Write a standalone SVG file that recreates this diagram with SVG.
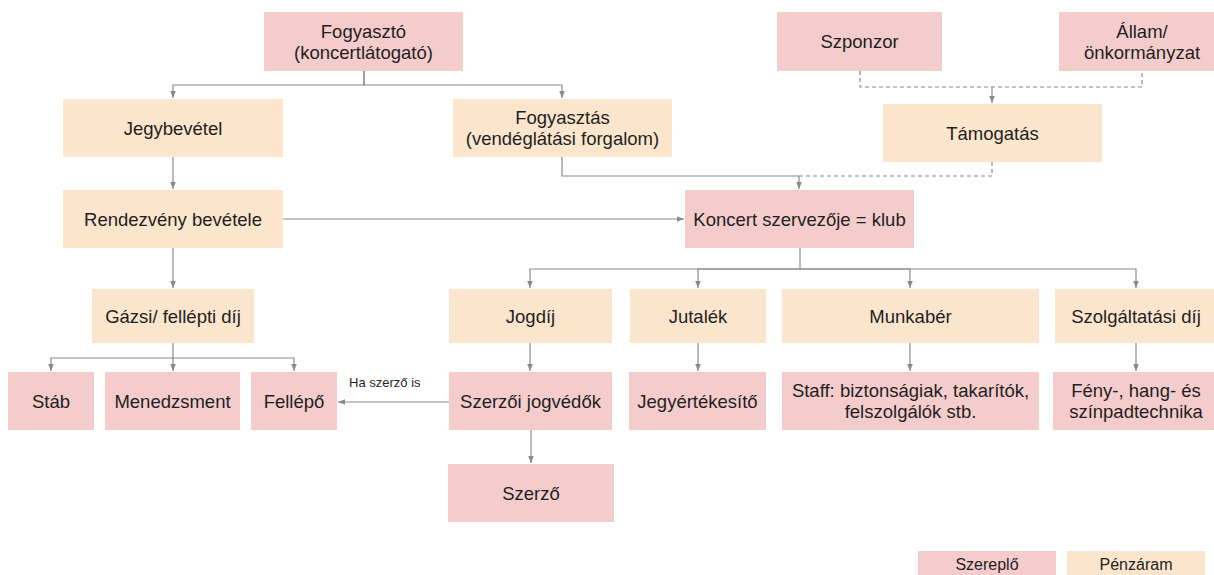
<svg xmlns="http://www.w3.org/2000/svg" width="1214" height="575" viewBox="0 0 1214 575">
<defs>
<marker id="arr" markerUnits="userSpaceOnUse" markerWidth="8" markerHeight="8" viewBox="0 0 8 8" refX="7" refY="4" orient="auto">
<path d="M0,1.2 L7,4 L0,6.8 Z" fill="#8a8a8a"/>
</marker>
<style>
.a{fill:#f4cccc}
.m{fill:#fce5cd}
text{font-family:"Liberation Sans",Arial,sans-serif;font-size:18.5px;fill:#1f1f1f;text-anchor:middle}
.s{font-size:13px;text-anchor:start}
.l{font-size:16px}
.c path{fill:none;stroke:#8a8a8a;stroke-width:1.2}
.c path.ar{marker-end:url(#arr)}
.c path.d{stroke-dasharray:4 3}
</style>
</defs>
<rect width="1214" height="575" fill="#ffffff"/>
<g class="c" id="connectors">
<path class="ar" d="M364,71 V85 H173 V98"/>
<path class="ar" d="M364,71 V85 H562 V98"/>
<path class="ar" d="M173,157 V189"/>
<path class="ar" d="M562,157 V176 H799 V189"/>
<path class="d" d="M860,71 V87 H1142 V71"/>
<path class="ar" d="M992,87 V103"/>
<path class="d" d="M992,162 V176 H799"/>
<path class="ar" d="M283,219 H684"/>
<path class="ar" d="M173,248 V288"/>
<path class="ar" d="M173,343 V358 H51 V371"/>
<path class="ar" d="M173,358 V371"/>
<path class="ar" d="M173,358 H294 V371"/>
<path class="ar" d="M800,248 V269 H530 V288"/>
<path class="ar" d="M800,269 H698 V288"/>
<path class="ar" d="M800,269 H910 V288"/>
<path class="ar" d="M800,269 H1136 V288"/>
<path class="ar" d="M530,343 V371"/>
<path class="ar" d="M698,343 V371"/>
<path class="ar" d="M910,343 V371"/>
<path class="ar" d="M1136,343 V371"/>
<path class="ar" d="M449,402 H338"/>
<path class="ar" d="M531,430 V463"/>
<text class="s" x="349" y="387">Ha szerző is</text>
</g>
<g id="fogyaszto"><rect class="a" x="264" y="12" width="199" height="59"/><text x="363.5" y="37.5">Fogyasztó</text><text x="363.5" y="58.5">(koncertlátogató)</text></g>
<g id="szponzor"><rect class="a" x="777" y="12" width="165" height="59"/><text x="859.5" y="48">Szponzor</text></g>
<g id="allam"><rect class="a" x="1059" y="12" width="166" height="59"/><text x="1142" y="37.5">Állam/</text><text x="1142" y="58.5">önkormányzat</text></g>
<g id="jegybevetel"><rect class="m" x="63" y="99" width="220" height="58"/><text x="173" y="134.5">Jegybevétel</text></g>
<g id="fogyasztas"><rect class="m" x="453" y="99" width="219" height="58"/><text x="562.5" y="124">Fogyasztás</text><text x="562.5" y="145">(vendéglátási forgalom)</text></g>
<g id="tamogatas"><rect class="m" x="883" y="104" width="219" height="58"/><text x="992.5" y="139.5">Támogatás</text></g>
<g id="rendezveny"><rect class="m" x="63" y="190" width="220" height="58"/><text x="173" y="225.5">Rendezvény bevétele</text></g>
<g id="koncert"><rect class="a" x="685" y="190" width="229" height="58"/><text x="799.5" y="225.5">Koncert szervezője = klub</text></g>
<g id="gazsi"><rect class="m" x="92" y="289" width="162" height="54"/><text x="173" y="322.5">Gázsi/ fellépti díj</text></g>
<g id="jogdij"><rect class="m" x="449" y="289" width="163" height="54"/><text x="530.5" y="322.5">Jogdíj</text></g>
<g id="jutalek"><rect class="m" x="630" y="289" width="136" height="54"/><text x="698" y="322.5">Jutalék</text></g>
<g id="munkaber"><rect class="m" x="782" y="289" width="257" height="54"/><text x="910.5" y="322.5">Munkabér</text></g>
<g id="szolgaltatasi"><rect class="m" x="1055" y="289" width="162" height="54"/><text x="1136" y="322.5">Szolgáltatási díj</text></g>
<g id="stab"><rect class="a" x="8" y="372" width="86" height="58"/><text x="51" y="407.5">Stáb</text></g>
<g id="menedzsment"><rect class="a" x="105" y="372" width="135" height="58"/><text x="172.5" y="407.5">Menedzsment</text></g>
<g id="fellepo"><rect class="a" x="251" y="372" width="86" height="58"/><text x="294" y="407.5">Fellépő</text></g>
<g id="szerzoi"><rect class="a" x="449" y="372" width="163" height="58"/><text x="530.5" y="407.5">Szerzői jogvédők</text></g>
<g id="jegyertekesito"><rect class="a" x="629" y="372" width="137" height="58"/><text x="697.5" y="407.5">Jegyértékesítő</text></g>
<g id="staff"><rect class="a" x="782" y="372" width="257" height="58"/><text x="910.5" y="397">Staff: biztonságiak, takarítók,</text><text x="910.5" y="418">felszolgálók stb.</text></g>
<g id="feny"><rect class="a" x="1053" y="372" width="166" height="58"/><text x="1136" y="397">Fény-, hang- és</text><text x="1136" y="418">színpadtechnika</text></g>
<g id="szerzo"><rect class="a" x="448" y="464" width="166" height="58"/><text x="531" y="499.5">Szerző</text></g>
<g id="legend-szereplo"><rect class="a" x="918" y="551" width="138" height="26"/><text class="l" x="987" y="570">Szereplő</text></g>
<g id="legend-penzaram"><rect class="m" x="1067" y="551" width="138" height="26"/><text class="l" x="1136" y="570">Pénzáram</text></g>
</svg>
